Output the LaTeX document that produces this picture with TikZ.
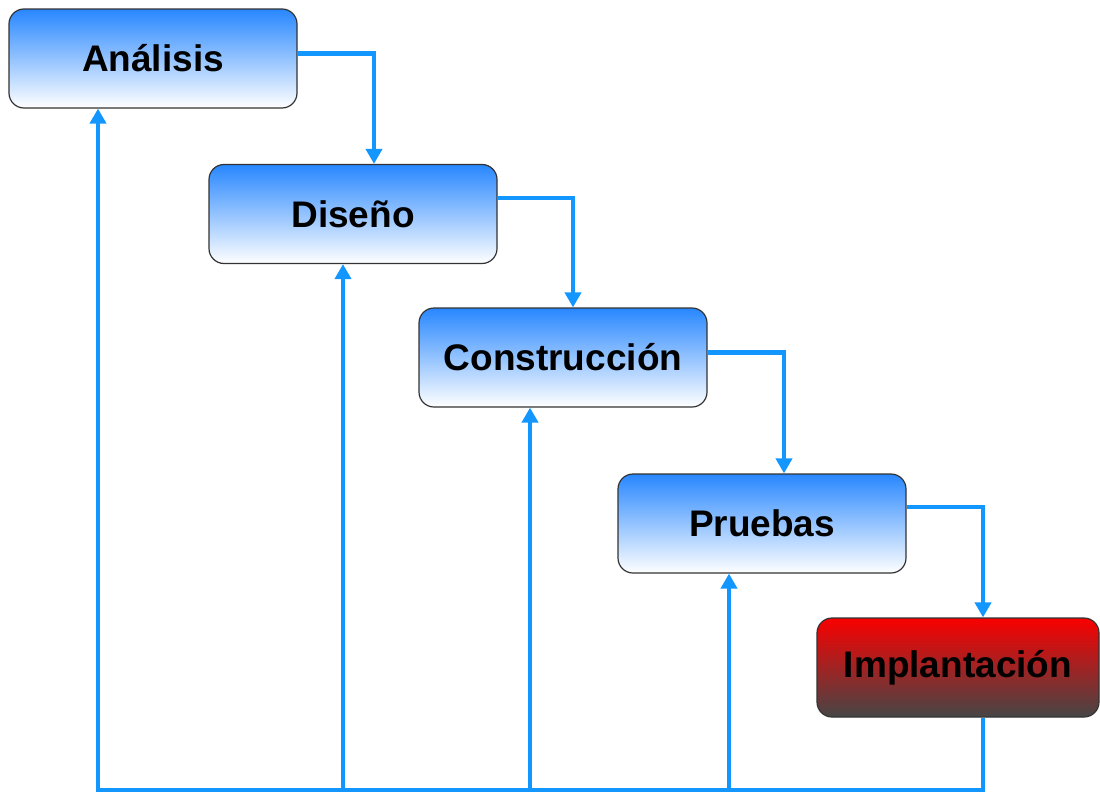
\documentclass[tikz,border=0pt]{standalone}
\usepackage{fontspec}
\setmainfont{Liberation Sans}
\usetikzlibrary{arrows.meta}
\definecolor{flowblue}{RGB}{20,150,255}
\definecolor{boxblue}{RGB}{40,135,255}
\definecolor{boxred}{RGB}{250,0,0}
\definecolor{boxdark}{RGB}{70,70,70}
\begin{document}
\begin{tikzpicture}[x=1pt,y=-1pt,
    stage/.style = {draw=black!80, line width=1.2pt, rounded corners=15pt,
      minimum width=288pt, minimum height=99pt, inner sep=0pt,
      top color=boxblue, bottom color=white, font=\bfseries\fontsize{37}{40}\selectfont},
    last/.style = {stage, minimum width=282pt, top color=boxred, bottom color=boxdark},
    flow/.style = {draw=flowblue, line width=4.6pt, -{Triangle[width=16pt,length=15pt]}}]
  \useasboundingbox (0,0) rectangle (1100,795);
  \node[stage] (1) at (153,58.5) {Análisis};
  \node[stage] (2) at (353,214) {Diseño};
  \node[stage] (3) at (563,357.5) {Construcción};
  \node[stage] (4) at (762,523.5) {Pruebas};
  \node[last] (5) at (958,667.5) {Implantación};
  % bajada en cascada
  \draw[flow] ([yshift=5pt]1.east) -| ([xshift=21pt]2.north);
  \draw[flow] ([yshift=16pt]2.east) -| ([xshift=10pt]3.north);
  \draw[flow] ([yshift=5pt]3.east) -| ([xshift=22pt]4.north);
  \draw[flow] ([yshift=16.5pt]4.east) -| ([xshift=25pt]5.north);
  % retorno
  \coordinate (b1) at (98,790);
  \coordinate (b2) at (343,790);
  \coordinate (b3) at (530,790);
  \coordinate (b4) at (729,790);
  \draw[flow,-] ([xshift=25pt]5.south) |- ([xshift=-2.3pt]b1);
  \draw[flow] (b1) -- (b1 |- 1.south);
  \draw[flow] (b2) -- (b2 |- 2.south);
  \draw[flow] (b3) -- (b3 |- 3.south);
  \draw[flow] (b4) -- (b4 |- 4.south);
\end{tikzpicture}
\end{document}
